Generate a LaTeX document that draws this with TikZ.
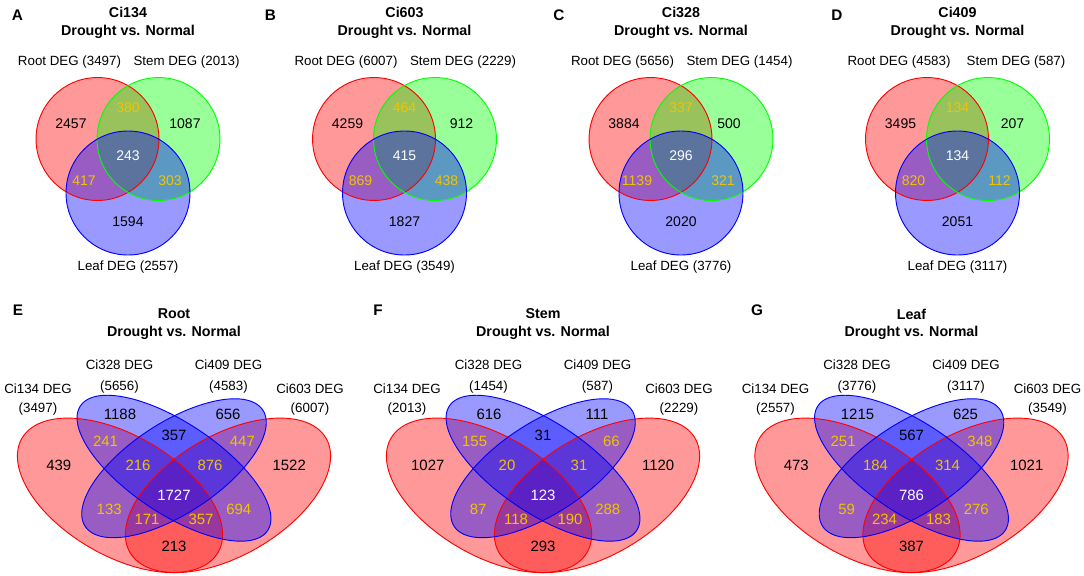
\documentclass[tikz,border=0pt]{standalone}
\usepackage{fontspec}
\setmainfont{Liberation Sans}
\definecolor{numgold}{RGB}{240,196,0}

\begin{document}
\begin{tikzpicture}[x=0.75pt, y=-0.75pt,
    ttl/.style={font=\fontsize{10.7}{12}\selectfont\bfseries, inner sep=0pt},
    panel/.style={font=\fontsize{11.5}{12}\selectfont\bfseries, inner sep=0pt},
    setlab/.style={font=\fontsize{10}{12}\selectfont, inner sep=0pt},
    num/.style={font=\fontsize{10.5}{12}\selectfont, inner sep=0pt},
    bignum/.style={font=\fontsize{11.2}{12}\selectfont, inner sep=0pt},
    rim/.style={line width=0.7pt}]
  \useasboundingbox (0,0) rectangle (1084,575);
  % Top row: one cultivar, three tissues
  \foreach \cx/\px/\lab/\ttl/\ra/\sa/\la/\sx/\va/\vb/\vc/\vd/\ve/\vf/\vg in {
      128/17.5/A/Ci134/3497/2013/2557/57/2457/380/1087/243/417/303/1594,
      404.5/270.5/B/Ci603/6007/2229/3549/57/4259/464/912/415/869/438/1827,
      681/559/C/Ci328/5656/1454/3776/48/3884/337/500/296/1139/321/2020,
      957.5/837/D/Ci409/4583/587/3117/55/3495/134/207/134/820/112/2051}{
    % Circles
    \fill[red, fill opacity=0.4] (\cx-30.5,139) circle[radius=46.1pt];
    \fill[green, fill opacity=0.4] (\cx+30.5,139) circle[radius=46.1pt];
    \fill[blue, fill opacity=0.4] (\cx,193) circle[radius=46.5pt];
    \draw[rim, red] (\cx-30.5,139) circle[radius=46.1pt];
    \draw[rim, green] (\cx+30.5,139) circle[radius=46.1pt];
    \draw[rim, blue] (\cx,193) circle[radius=46.5pt];
    % Titles and set labels
    \node[panel] (\lab) at (\px,15) {\lab};
    \node[ttl] (\lab-t1) at (\cx,12) {\ttl};
    \node[ttl] (\lab-t2) at (\cx,32) {Drought vs. Normal};
    \node[setlab] (\lab-root) at (\cx-58.5,62) {Root DEG (\ra)};
    \node[setlab] (\lab-stem) at (\cx+58.5,62) {Stem DEG (\sa)};
    \node[setlab] (\lab-leaf) at (\cx,267) {Leaf DEG (\la)};
    % Region counts
    \node[num] (\lab-1) at (\cx-57,124) {\va};
    \node[num, text=numgold] (\lab-2) at (\cx,108) {\vb};
    \node[num] (\lab-3) at (\cx+\sx,124) {\vc};
    \node[num, text=white] (\lab-4) at (\cx,156) {\vd};
    \node[num, text=numgold] (\lab-5) at (\cx-44,181) {\ve};
    \node[num, text=numgold] (\lab-6) at (\cx+42,181) {\vf};
    \node[num] (\lab-7) at (\cx,222) {\vg};
  }
  % Bottom row: one tissue, four cultivars
  \foreach \cx/\px/\lab/\ttl/\ca/\cb/\cc/\cd/\nums in {
      174/18/E/Root/3497/5656/4583/6007/{1188,357,656,241,216,1727,876,447,439,133,171,213,357,694,1522},
      543/378/F/Stem/2013/1454/587/2229/{616,31,111,155,20,123,31,66,1027,87,118,293,190,288,1120},
      911.5/757/G/Leaf/2557/3776/3117/3549/{1215,567,625,251,184,786,314,348,473,59,234,387,183,276,1021}}{
    \begin{scope}[shift={(\cx-180,622.7)}, x={(270pt,0pt)}, y={(0pt,203.25pt)}]
      % Ellipses
      \foreach \ecx/\ecy/\rx/\ry/\rot/\col in {0.35/0.47/0.35/0.2/135/red, 0.65/0.47/0.35/0.2/45/red,
          0.5/0.57/0.35/0.15/135/blue, 0.5/0.57/0.33/0.15/45/blue}
        \fill[\col, fill opacity=0.4] plot[domain=0:360, samples=181]
          ({\ecx+\rx*cos(\x)*cos(\rot)-\ry*sin(\x)*sin(\rot)}, {\ecy+\rx*cos(\x)*sin(\rot)+\ry*sin(\x)*cos(\rot)}) -- cycle;
      \foreach \ecx/\ecy/\rx/\ry/\rot/\col in {0.35/0.47/0.35/0.2/135/red, 0.65/0.47/0.35/0.2/45/red,
          0.5/0.57/0.35/0.15/135/blue, 0.5/0.57/0.33/0.15/45/blue}
        \draw[rim, \col] plot[domain=0:360, samples=181]
          ({\ecx+\rx*cos(\x)*cos(\rot)-\ry*sin(\x)*sin(\rot)}, {\ecy+\rx*cos(\x)*sin(\rot)+\ry*sin(\x)*cos(\rot)}) -- cycle;
      % Region counts
      \foreach \u/\v/\c [count=\i from 0] in {0.35/0.77/black, 0.5/0.69/black, 0.65/0.77/black,
          0.31/0.67/numgold, 0.4/0.58/numgold, 0.5/0.47/white, 0.6/0.58/numgold, 0.69/0.67/numgold,
          0.18/0.58/black, 0.32/0.42/numgold, 0.425/0.38/numgold, 0.5/0.28/black,
          0.575/0.38/numgold, 0.68/0.42/numgold, 0.82/0.58/black}{
        \pgfmathtruncatemacro\nval{{\nums}[\i]}
        \node[bignum, text=\c] (\lab-\i) at (\u,\v) {\nval};
      }
    \end{scope}
    % Titles and set labels
    \node[panel] (\lab) at (\px,310) {\lab};
    \node[ttl] (\lab-t1) at (\cx,314) {\ttl};
    \node[ttl] (\lab-t2) at (\cx,333) {Drought vs. Normal};
    \node[setlab] (\lab-a) at (\cx-136,389) {Ci134 DEG};
    \node[setlab] (\lab-an) at (\cx-136,409) {(\ca)};
    \node[setlab] (\lab-b) at (\cx-54.5,365) {Ci328 DEG};
    \node[setlab] (\lab-bn) at (\cx-54.5,387) {(\cb)};
    \node[setlab] (\lab-c) at (\cx+54.5,365) {Ci409 DEG};
    \node[setlab] (\lab-cn) at (\cx+54.5,387) {(\cc)};
    \node[setlab] (\lab-d) at (\cx+136,389) {Ci603 DEG};
    \node[setlab] (\lab-dn) at (\cx+136,409) {(\cd)};
  }
\end{tikzpicture}
\end{document}
